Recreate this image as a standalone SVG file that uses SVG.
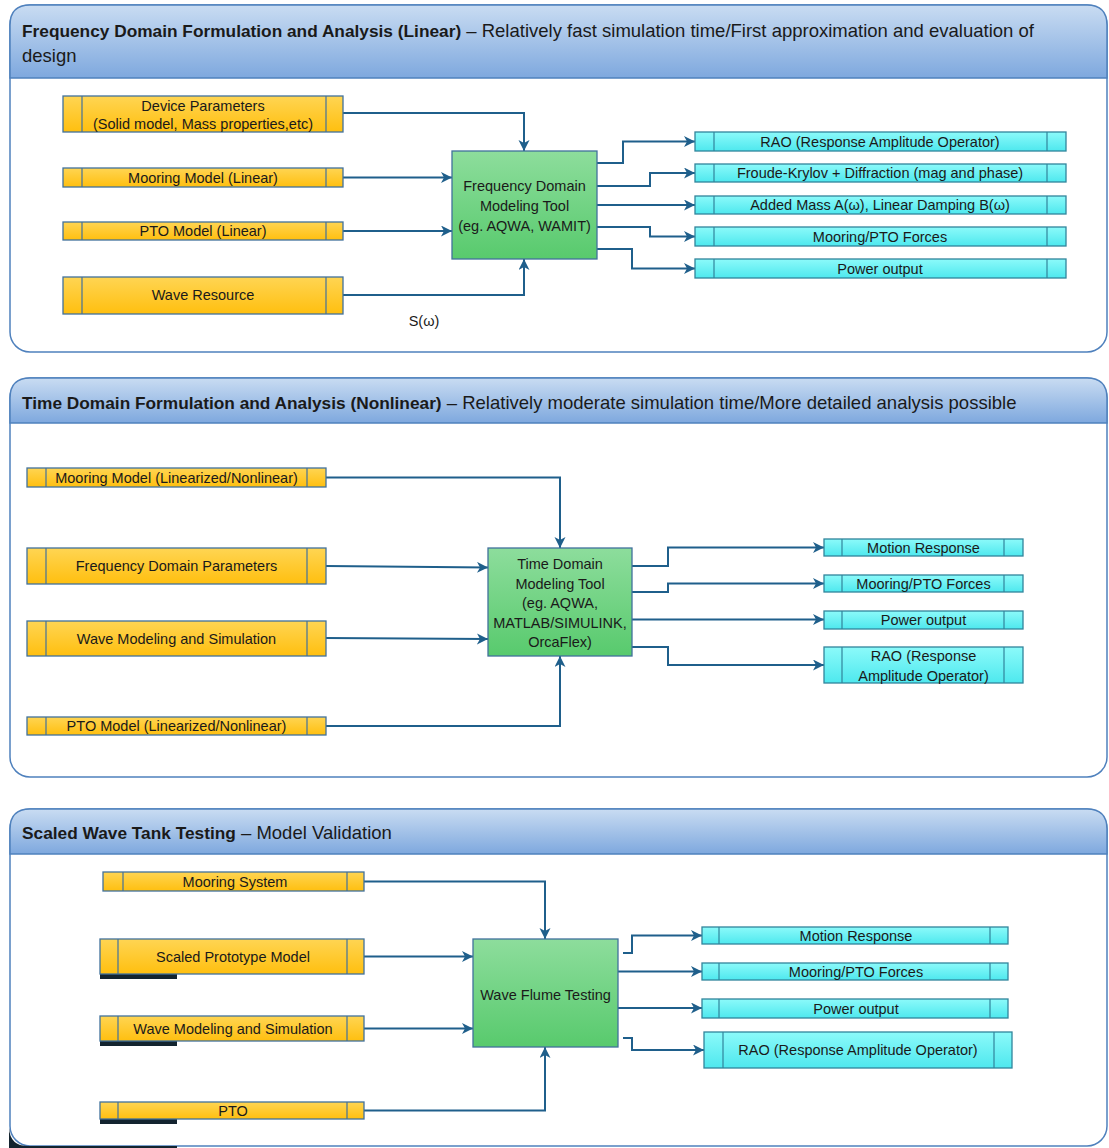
<svg xmlns="http://www.w3.org/2000/svg" width="1109" height="1148" viewBox="0 0 1109 1148">
  <style>
    .panel { fill: #ffffff; stroke: #4f81bd; stroke-width: 1.5; }
    .hdr { fill: url(#gHdr); stroke: #4f81bd; stroke-width: 1.5; }
    .title { font-family: "Liberation Sans", Arial, sans-serif; font-size: 18.5px; fill: #1a1a1a; }
    .title .b { font-weight: bold; font-size: 17.3px; }
    .in rect.box { fill: url(#gYel); stroke: #41719c; stroke-width: 1.3; }
    .out rect.box { fill: url(#gCyan); stroke: #31849b; stroke-width: 1.3; }
    .tool rect.box { fill: url(#gGrn); stroke: #41719c; stroke-width: 1.3; }
    .in line { stroke: #41719c; stroke-width: 1.2; }
    .out line { stroke: #31849b; stroke-width: 1.2; }
    .lbl { font-family: "Liberation Sans", Arial, sans-serif; font-size: 14.5px; fill: #1a1a1a; text-anchor: middle; }
    .conn path { fill: none; stroke: #1f5f8b; stroke-width: 2; marker-end: url(#arr); }
    .shade { fill: #13242f; }
  </style>
  <defs>
    <linearGradient id="gHdr" x1="0" y1="0" x2="0" y2="1">
      <stop offset="0" stop-color="#c9dcf2"/>
      <stop offset="1" stop-color="#7ea8de"/>
    </linearGradient>
    <linearGradient id="gYel" x1="0" y1="0" x2="0" y2="1">
      <stop offset="0" stop-color="#ffd553"/>
      <stop offset="1" stop-color="#ffbf0f"/>
    </linearGradient>
    <linearGradient id="gCyan" x1="0" y1="0" x2="0" y2="1">
      <stop offset="0" stop-color="#8cfafa"/>
      <stop offset="1" stop-color="#4ee8ee"/>
    </linearGradient>
    <linearGradient id="gGrn" x1="0" y1="0" x2="0" y2="1">
      <stop offset="0" stop-color="#8ddd9c"/>
      <stop offset="1" stop-color="#58ca6d"/>
    </linearGradient>
    <marker id="arr" markerUnits="userSpaceOnUse" markerWidth="13" markerHeight="12" refX="11" refY="5.5" orient="auto">
      <path d="M0,0 L11,5.5 L0,11 L3,5.5 Z" fill="#1f5f8b"/>
    </marker>
  </defs>

  <!-- ===== Panel 1: frequency domain ===== -->
  <g id="panel-frequency">
    <rect class="panel" x="10" y="5" width="1097" height="347" rx="20"/>
    <path class="hdr" d="M10 78 V25 Q10 5 30 5 H1087 Q1107 5 1107 25 V78 Z"/>
    <text class="title" x="22" y="37"><tspan class="b">Frequency Domain Formulation and Analysis (Linear)</tspan> – Relatively fast simulation time/First approximation and evaluation of</text>
    <text class="title" x="22" y="62">design</text>
  </g>

  <!-- ===== Panel 2: time domain ===== -->
  <g id="panel-time">
    <rect class="panel" x="10" y="378" width="1097" height="399" rx="20"/>
    <path class="hdr" d="M10 423 V398 Q10 378 30 378 H1087 Q1107 378 1107 398 V423 Z"/>
    <text class="title" x="22" y="409"><tspan class="b">Time Domain Formulation and Analysis (Nonlinear)</tspan> – Relatively moderate simulation time/More detailed analysis possible</text>
  </g>

  <!-- ===== Panel 3: wave tank ===== -->
  <g id="panel-tank">
    <rect class="panel" x="10" y="809" width="1097" height="337" rx="20"/>
    <path class="hdr" d="M10 854 V829 Q10 809 30 809 H1087 Q1107 809 1107 829 V854 Z"/>
    <text class="title" x="22" y="839"><tspan class="b">Scaled Wave Tank Testing</tspan> – Model Validation</text>
    <path class="shade" d="M9 1128 Q10 1146 28 1146 H177 V1148 H9 Z"/>
  </g>

  <!-- ===== Connectors ===== -->
  <g id="connectors" class="conn">
    <!-- panel 1 inputs -->
    <path d="M343 113 H524 V151"/>
    <path d="M343 177.5 H452"/>
    <path d="M343 231 H452"/>
    <path d="M343 295 H524 V259"/>
    <!-- panel 1 outputs -->
    <path d="M597 163 H623 V141.5 H695"/>
    <path d="M597 186 H650 V173 H695"/>
    <path d="M597 205 H695"/>
    <path d="M597 227 H650 V236.5 H695"/>
    <path d="M597 249 H632 V268.5 H695"/>
    <!-- panel 2 inputs -->
    <path d="M326 477.5 H560 V548"/>
    <path d="M326 566 L488 567.5"/>
    <path d="M326 638 L488 639"/>
    <path d="M326 726 H560 V656"/>
    <!-- panel 2 outputs -->
    <path d="M632 566 H668 V547.5 H824"/>
    <path d="M632 592 H668 V583.5 H824"/>
    <path d="M632 619.5 H824"/>
    <path d="M632 647 H668 V665 H824"/>
    <!-- panel 3 inputs -->
    <path d="M364 881.5 H545 V939"/>
    <path d="M364 956.5 H473"/>
    <path d="M364 1028.5 H473"/>
    <path d="M364 1110.5 H545 V1047"/>
    <!-- panel 3 outputs -->
    <path d="M623 953 H632 V935.5 H702"/>
    <path d="M618 971.5 H702"/>
    <path d="M618 1008 H702"/>
    <path d="M623 1038 H632 V1050 H704"/>
  </g>

  <!-- ===== Panel 1 nodes ===== -->
  <g id="fd-device" class="in">
    <rect class="box" x="63" y="96" width="280" height="36"/>
    <line x1="82" y1="96" x2="82" y2="132"/><line x1="326" y1="96" x2="326" y2="132"/>
    <text class="lbl" x="203" y="111">Device Parameters</text>
    <text class="lbl" x="203" y="129">(Solid model, Mass properties,etc)</text>
  </g>
  <g id="fd-mooring" class="in">
    <rect class="box" x="63" y="168" width="280" height="19"/>
    <line x1="82" y1="168" x2="82" y2="187"/><line x1="326" y1="168" x2="326" y2="187"/>
    <text class="lbl" x="203" y="182.5">Mooring Model (Linear)</text>
  </g>
  <g id="fd-pto" class="in">
    <rect class="box" x="63" y="222" width="280" height="18"/>
    <line x1="82" y1="222" x2="82" y2="240"/><line x1="326" y1="222" x2="326" y2="240"/>
    <text class="lbl" x="203" y="236">PTO Model (Linear)</text>
  </g>
  <g id="fd-wave" class="in">
    <rect class="box" x="63" y="277" width="280" height="37"/>
    <line x1="82" y1="277" x2="82" y2="314"/><line x1="326" y1="277" x2="326" y2="314"/>
    <text class="lbl" x="203" y="300">Wave Resource</text>
  </g>
  <text id="fd-spectrum" class="lbl" x="424" y="326">S(ω)</text>
  <g id="fd-tool" class="tool">
    <rect class="box" x="452" y="151" width="145" height="108"/>
    <text class="lbl" x="524.5" y="191">Frequency Domain</text>
    <text class="lbl" x="524.5" y="211">Modeling Tool</text>
    <text class="lbl" x="524.5" y="231">(eg. AQWA, WAMIT)</text>
  </g>
  <g id="fd-rao" class="out">
    <rect class="box" x="695" y="132" width="371" height="19"/>
    <line x1="714" y1="132" x2="714" y2="151"/><line x1="1047" y1="132" x2="1047" y2="151"/>
    <text class="lbl" x="880" y="146.5">RAO (Response Amplitude Operator)</text>
  </g>
  <g id="fd-fk" class="out">
    <rect class="box" x="695" y="164" width="371" height="18"/>
    <line x1="714" y1="164" x2="714" y2="182"/><line x1="1047" y1="164" x2="1047" y2="182"/>
    <text class="lbl" x="880" y="178">Froude-Krylov + Diffraction (mag and phase)</text>
  </g>
  <g id="fd-added" class="out">
    <rect class="box" x="695" y="196" width="371" height="18"/>
    <line x1="714" y1="196" x2="714" y2="214"/><line x1="1047" y1="196" x2="1047" y2="214"/>
    <text class="lbl" x="880" y="210">Added Mass A(ω), Linear Damping B(ω)</text>
  </g>
  <g id="fd-forces" class="out">
    <rect class="box" x="695" y="227" width="371" height="19"/>
    <line x1="714" y1="227" x2="714" y2="246"/><line x1="1047" y1="227" x2="1047" y2="246"/>
    <text class="lbl" x="880" y="241.5">Mooring/PTO Forces</text>
  </g>
  <g id="fd-power" class="out">
    <rect class="box" x="695" y="259" width="371" height="19"/>
    <line x1="714" y1="259" x2="714" y2="278"/><line x1="1047" y1="259" x2="1047" y2="278"/>
    <text class="lbl" x="880" y="273.5">Power output</text>
  </g>

  <!-- ===== Panel 2 nodes ===== -->
  <g id="td-mooring" class="in">
    <rect class="box" x="27" y="468" width="299" height="19"/>
    <line x1="46" y1="468" x2="46" y2="487"/><line x1="307" y1="468" x2="307" y2="487"/>
    <text class="lbl" x="176.5" y="482.5">Mooring Model (Linearized/Nonlinear)</text>
  </g>
  <g id="td-fdparams" class="in">
    <rect class="box" x="27" y="548" width="299" height="36"/>
    <line x1="46" y1="548" x2="46" y2="584"/><line x1="307" y1="548" x2="307" y2="584"/>
    <text class="lbl" x="176.5" y="571">Frequency Domain Parameters</text>
  </g>
  <g id="td-wave" class="in">
    <rect class="box" x="27" y="621" width="299" height="35"/>
    <line x1="46" y1="621" x2="46" y2="656"/><line x1="307" y1="621" x2="307" y2="656"/>
    <text class="lbl" x="176.5" y="643.5">Wave Modeling and Simulation</text>
  </g>
  <g id="td-pto" class="in">
    <rect class="box" x="27" y="717" width="299" height="18"/>
    <line x1="46" y1="717" x2="46" y2="735"/><line x1="307" y1="717" x2="307" y2="735"/>
    <text class="lbl" x="176.5" y="731">PTO Model (Linearized/Nonlinear)</text>
  </g>
  <g id="td-tool" class="tool">
    <rect class="box" x="488" y="548" width="144" height="108"/>
    <text class="lbl" x="560" y="569">Time Domain</text>
    <text class="lbl" x="560" y="588.5">Modeling Tool</text>
    <text class="lbl" x="560" y="608">(eg. AQWA,</text>
    <text class="lbl" x="560" y="627.5">MATLAB/SIMULINK,</text>
    <text class="lbl" x="560" y="647">OrcaFlex)</text>
  </g>
  <g id="td-motion" class="out">
    <rect class="box" x="824" y="539" width="199" height="17"/>
    <line x1="842" y1="539" x2="842" y2="556"/><line x1="1004" y1="539" x2="1004" y2="556"/>
    <text class="lbl" x="923.5" y="553">Motion Response</text>
  </g>
  <g id="td-forces" class="out">
    <rect class="box" x="824" y="575" width="199" height="17"/>
    <line x1="842" y1="575" x2="842" y2="592"/><line x1="1004" y1="575" x2="1004" y2="592"/>
    <text class="lbl" x="923.5" y="589">Mooring/PTO Forces</text>
  </g>
  <g id="td-power" class="out">
    <rect class="box" x="824" y="611" width="199" height="18"/>
    <line x1="842" y1="611" x2="842" y2="629"/><line x1="1004" y1="611" x2="1004" y2="629"/>
    <text class="lbl" x="923.5" y="625">Power output</text>
  </g>
  <g id="td-rao" class="out">
    <rect class="box" x="824" y="647" width="199" height="36"/>
    <line x1="842" y1="647" x2="842" y2="683"/><line x1="1004" y1="647" x2="1004" y2="683"/>
    <text class="lbl" x="923.5" y="661">RAO (Response</text>
    <text class="lbl" x="923.5" y="681">Amplitude Operator)</text>
  </g>

  <!-- ===== Panel 3 nodes ===== -->
  <g id="wt-mooring" class="in">
    <rect class="box" x="103" y="872" width="261" height="19"/>
    <line x1="123" y1="872" x2="123" y2="891"/><line x1="347" y1="872" x2="347" y2="891"/>
    <text class="lbl" x="235" y="886.5">Mooring System</text>
  </g>
  <g id="wt-prototype" class="in">
    <rect class="shade" x="100" y="974" width="77" height="5"/>
    <rect class="box" x="100" y="939" width="264" height="35"/>
    <line x1="118" y1="939" x2="118" y2="974"/><line x1="347" y1="939" x2="347" y2="974"/>
    <text class="lbl" x="233" y="962">Scaled Prototype Model</text>
  </g>
  <g id="wt-wave" class="in">
    <rect class="shade" x="100" y="1041" width="77" height="5"/>
    <rect class="box" x="100" y="1016" width="264" height="25"/>
    <line x1="118" y1="1016" x2="118" y2="1041"/><line x1="347" y1="1016" x2="347" y2="1041"/>
    <text class="lbl" x="233" y="1034">Wave Modeling and Simulation</text>
  </g>
  <g id="wt-pto" class="in">
    <rect class="shade" x="100" y="1119" width="77" height="5"/>
    <rect class="box" x="100" y="1102" width="264" height="17"/>
    <line x1="118" y1="1102" x2="118" y2="1119"/><line x1="347" y1="1102" x2="347" y2="1119"/>
    <text class="lbl" x="233" y="1116">PTO</text>
  </g>
  <g id="wt-flume" class="tool">
    <rect class="box" x="473" y="939" width="145" height="108"/>
    <text class="lbl" x="545.5" y="1000">Wave Flume Testing</text>
  </g>
  <g id="wt-motion" class="out">
    <rect class="box" x="702" y="927" width="306" height="17"/>
    <line x1="719" y1="927" x2="719" y2="944"/><line x1="990" y1="927" x2="990" y2="944"/>
    <text class="lbl" x="856" y="941">Motion Response</text>
  </g>
  <g id="wt-forces" class="out">
    <rect class="box" x="702" y="963" width="306" height="17"/>
    <line x1="719" y1="963" x2="719" y2="980"/><line x1="990" y1="963" x2="990" y2="980"/>
    <text class="lbl" x="856" y="977">Mooring/PTO Forces</text>
  </g>
  <g id="wt-power" class="out">
    <rect class="box" x="702" y="999" width="306" height="19"/>
    <line x1="719" y1="999" x2="719" y2="1018"/><line x1="990" y1="999" x2="990" y2="1018"/>
    <text class="lbl" x="856" y="1013.5">Power output</text>
  </g>
  <g id="wt-rao" class="out">
    <rect class="box" x="704" y="1032" width="308" height="36"/>
    <line x1="723" y1="1032" x2="723" y2="1068"/><line x1="994" y1="1032" x2="994" y2="1068"/>
    <text class="lbl" x="858" y="1055">RAO (Response Amplitude Operator)</text>
  </g>
</svg>
